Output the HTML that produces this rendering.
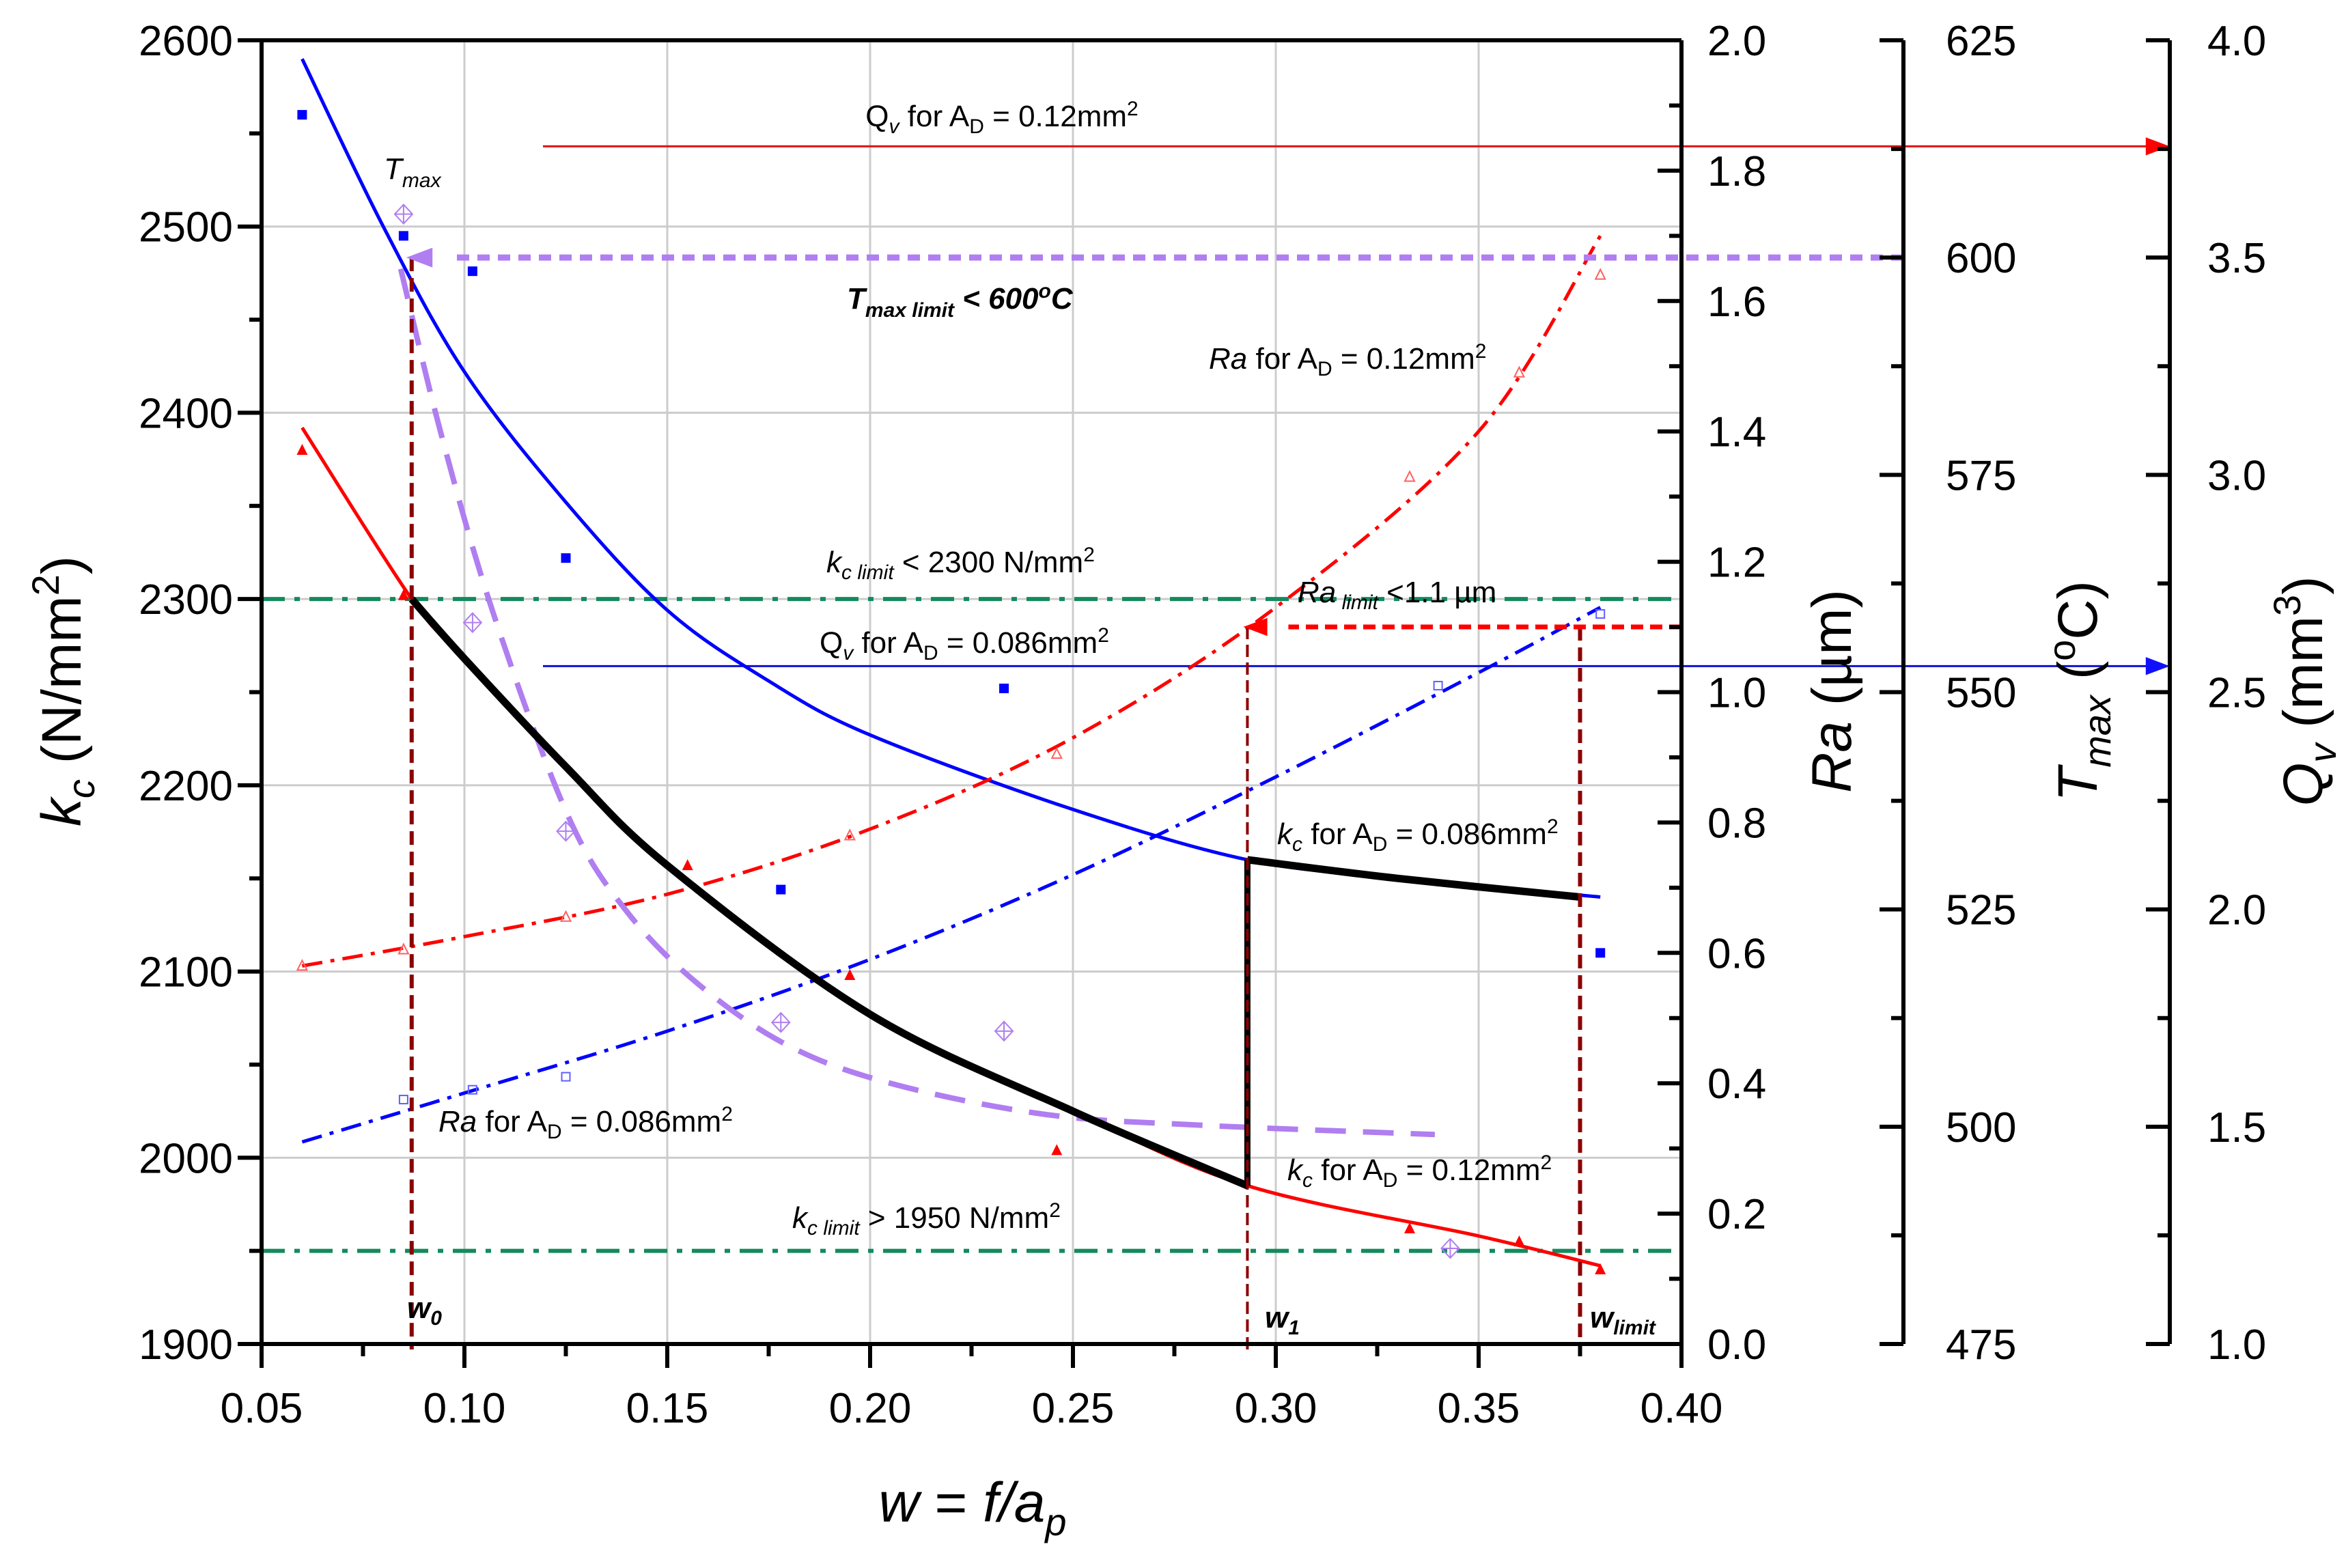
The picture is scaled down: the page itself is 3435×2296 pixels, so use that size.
<!DOCTYPE html>
<html><head><meta charset="utf-8"><style>
html,body{margin:0;padding:0;background:#fff}
svg text{font-family:"Liberation Sans",Arial,sans-serif}
</style></head><body>
<svg id="chart" xmlns="http://www.w3.org/2000/svg" width="3435" height="2291" viewBox="0 0 3435 2291">
<g id="grid"></g>
<g id="series"></g>
<g id="axes"></g>
<g id="labels" font-size="44">
<text x="1467" y="185" text-anchor="middle">Q<tspan font-size="30" dy="10" font-style="italic">v</tspan><tspan dy="-10"> for A</tspan><tspan font-size="30" dy="10">D</tspan><tspan dy="-10"> = 0.12mm</tspan><tspan font-size="30" dy="-16">2</tspan></text>
<text x="562" y="262" font-style="italic">T<tspan font-size="30" dy="12">max</tspan></text>
<text x="1240" y="452" font-weight="bold" font-style="italic">T<tspan font-size="30" dy="12">max limit</tspan><tspan dy="-12"> &lt; 600</tspan><tspan font-size="30" dy="-16">o</tspan><tspan dy="16">C</tspan></text>
<text x="1770" y="540"><tspan font-style="italic">Ra</tspan> for A<tspan font-size="30" dy="10">D</tspan><tspan dy="-10"> = 0.12mm</tspan><tspan font-size="30" dy="-16">2</tspan></text>
<text x="1210" y="838"><tspan font-style="italic">k</tspan><tspan font-size="30" dy="10" font-style="italic">c limit</tspan><tspan dy="-10"> &lt; 2300 N/mm</tspan><tspan font-size="30" dy="-16">2</tspan></text>
<text x="1900" y="882"><tspan font-style="italic">Ra</tspan><tspan font-size="30" dy="10" font-style="italic"> limit</tspan><tspan dy="-10"> &lt;1.1 µm</tspan></text>
<text x="1200" y="956">Q<tspan font-size="30" dy="10" font-style="italic">v</tspan><tspan dy="-10"> for A</tspan><tspan font-size="30" dy="10">D</tspan><tspan dy="-10"> = 0.086mm</tspan><tspan font-size="30" dy="-16">2</tspan></text>
<text x="1870" y="1236"><tspan font-style="italic">k</tspan><tspan font-size="30" dy="10" font-style="italic">c</tspan><tspan dy="-10"> for A</tspan><tspan font-size="30" dy="10">D</tspan><tspan dy="-10"> = 0.086mm</tspan><tspan font-size="30" dy="-16">2</tspan></text>
<text x="642" y="1657"><tspan font-style="italic">Ra</tspan> for A<tspan font-size="30" dy="10">D</tspan><tspan dy="-10"> = 0.086mm</tspan><tspan font-size="30" dy="-16">2</tspan></text>
<text x="1885" y="1728"><tspan font-style="italic">k</tspan><tspan font-size="30" dy="10" font-style="italic">c</tspan><tspan dy="-10"> for A</tspan><tspan font-size="30" dy="10">D</tspan><tspan dy="-10"> = 0.12mm</tspan><tspan font-size="30" dy="-16">2</tspan></text>
<text x="1160" y="1798"><tspan font-style="italic">k</tspan><tspan font-size="30" dy="10" font-style="italic">c limit</tspan><tspan dy="-10"> &gt; 1950 N/mm</tspan><tspan font-size="30" dy="-16">2</tspan></text>
<text x="596" y="1930" font-weight="bold" font-style="italic">w<tspan font-size="30" dy="10">0</tspan></text>
<text x="1852" y="1944" font-weight="bold" font-style="italic">w<tspan font-size="30" dy="10">1</tspan></text>
<text x="2328" y="1944" font-weight="bold" font-style="italic">w<tspan font-size="30" dy="10">limit</tspan></text>
</g>
<g id="titles" font-size="82">
<text x="1424" y="2228" text-anchor="middle" font-style="italic">w<tspan font-style="normal"> = </tspan>f/a<tspan font-size="56" dy="20">p</tspan></text>
<text transform="translate(118,1012) rotate(-90)" text-anchor="middle"><tspan font-style="italic">k</tspan><tspan font-size="56" dy="20" font-style="italic">c</tspan><tspan dy="-20"> (N/mm</tspan><tspan font-size="56" dy="-32">2</tspan><tspan dy="32">)</tspan></text>
<text transform="translate(2710,1012) rotate(-90)" text-anchor="middle"><tspan font-style="italic">Ra</tspan> (µm)</text>
<text transform="translate(3070,1012) rotate(-90)" text-anchor="middle"><tspan font-style="italic">T</tspan><tspan font-size="56" dy="20" font-style="italic">max</tspan><tspan dy="-20"> (</tspan><tspan font-size="56" dy="-32">o</tspan><tspan dy="32">C)</tspan></text>
<text transform="translate(3400,1012) rotate(-90)" text-anchor="middle"><tspan font-style="italic">Q</tspan><tspan font-size="56" dy="20" font-style="italic">v</tspan><tspan dy="-20"> (mm</tspan><tspan font-size="56" dy="-32">3</tspan><tspan dy="32">)</tspan></text>
</g>
</svg>
<script>
const xTicks=[0.05,0.10,0.15,0.20,0.25,0.30,0.35,0.40];
const kcTicks=[1900,2000,2100,2200,2300,2400,2500,2600];
const raTicks=[0.0,0.2,0.4,0.6,0.8,1.0,1.2,1.4,1.6,1.8,2.0];
const tTicks=[475,500,525,550,575,600,625];
const qTicks=[1.0,1.5,2.0,2.5,3.0,3.5,4.0];
// kc fits
const kcFit086X=[0.06,0.08,0.10,0.125,0.15,0.175,0.20,0.25,0.293,0.33,0.38];
const kcFit086Y=[2590,2500,2422,2352,2294,2256,2227,2187,2160,2150,2140];
const kcFit12X=[0.06,0.087,0.10,0.125,0.15,0.20,0.25,0.293,0.35,0.38];
const kcFit12Y=[2392,2300,2268,2210,2157,2077,2025,1985,1958,1942];
const kc086X=[0.06,0.085,0.102,0.125,0.178,0.233,0.38];
const kc086Y=[2560,2495,2476,2322,2144,2252,2110];
const kc12X=[0.06,0.085,0.155,0.195,0.246,0.333,0.36,0.38];
const kc12Y=[2380,2302,2157,2098,2004,1962,1955,1940];
// Ra
const raFit12X=[0.06,0.10,0.15,0.20,0.25,0.30,0.35,0.38];
const raFit12Y=[0.58,0.625,0.69,0.79,0.93,1.13,1.40,1.70];
const ra12X=[0.06,0.085,0.125,0.195,0.246,0.333,0.36,0.38];
const ra12Y=[0.58,0.605,0.655,0.78,0.905,1.33,1.49,1.64];
const raFit086X=[0.06,0.10,0.15,0.20,0.25,0.30,0.35,0.38];
const raFit086Y=[0.31,0.385,0.48,0.59,0.72,0.87,1.03,1.13];
const ra086X=[0.085,0.102,0.125,0.34,0.38];
const ra086Y=[0.375,0.39,0.41,1.01,1.12];
// Tmax
const tFitX=[0.0843,0.0942,0.1071,0.1255,0.1403,0.1587,0.1808,0.2066,0.2434,0.2803,0.3392];
const tFitY=[598.7,579.8,559.1,535.8,524.6,516.0,509.1,504.8,501.4,500.2,499.1];
const tX=[0.085,0.102,0.125,0.178,0.233,0.343];
const tY=[605,558,534,512,511,486];
// limits
const qv12=3.756, qv086=2.56, tLimit=600, kcUpper=2300, kcLower=1950, raLimit=1.1;
const w0=0.087, w1=0.293, wLimit=0.375;

const X0=383,X1=2462,Y0=59,Y1=1968,AXT=2787,AXQ=3177;
const sx=v=>X0+(v-0.05)/0.35*(X1-X0);
const sk=v=>Y1-(v-1900)/700*(Y1-Y0);
const sr=v=>Y1-v/2*(Y1-Y0);
const st=v=>Y1-(v-475)/150*(Y1-Y0);
const sq=v=>Y1-(v-1)/3*(Y1-Y0);
const NS="http://www.w3.org/2000/svg";
function mk(parent,tag,attrs){const e=document.createElementNS(NS,tag);for(const k in attrs)e.setAttribute(k,attrs[k]);parent.appendChild(e);return e;}
const G=document.getElementById('grid'),S=document.getElementById('series'),A=document.getElementById('axes');
function smooth(pts){let d=`M${pts[0][0]},${pts[0][1]}`;for(let i=0;i<pts.length-1;i++){const p0=pts[i-1]||pts[i],p1=pts[i],p2=pts[i+1],p3=pts[i+2]||p2;
const c1=[p1[0]+(p2[0]-p0[0])/6,p1[1]+(p2[1]-p0[1])/6],c2=[p2[0]-(p3[0]-p1[0])/6,p2[1]-(p3[1]-p1[1])/6];
d+=` C${c1[0]},${c1[1]} ${c2[0]},${c2[1]} ${p2[0]},${p2[1]}`;}return d;}
// grid
xTicks.slice(1,-1).forEach(v=>{const l=mk(G,'line',{x1:sx(v),x2:sx(v),y1:Y0,y2:Y1,stroke:'#cccccc','stroke-width':3});

});
kcTicks.slice(1,-1).forEach(v=>{const l=mk(G,'line',{x1:X0,x2:X1,y1:sk(v),y2:sk(v),stroke:'#cccccc','stroke-width':3});

});
function curve(xs,ys,sy,color,w,dash,name){const p=mk(S,'path',{d:smooth(xs.map((x,i)=>[sx(x),sy(ys[i])])),fill:'none',stroke:color,'stroke-width':w,'stroke-dasharray':dash||'none'});

}
function line(x1,y1,x2,y2,color,w,dash,name){const l=mk(S,'line',{x1,y1,x2,y2,stroke:color,'stroke-width':w,'stroke-dasharray':dash||'none'});

}
function arrow(x,y,dir,color,size,name){const s=size;const pts=dir>0?`${x},${y} ${x-s*1.6},${y-s*0.6} ${x-s*1.6},${y+s*0.6}`:`${x},${y} ${x+s*1.6},${y-s*0.6} ${x+s*1.6},${y+s*0.6}`;
const p=mk(S,'polygon',{points:pts,fill:color});

}
// limit lines
line(X0,sk(kcUpper),X1,sk(kcUpper),'#138a5e',6,'34 14 8 14','kc-upper-limit-line');
line(X0,sk(kcLower),X1,sk(kcLower),'#138a5e',6,'34 14 8 14','kc-lower-limit-line');
line(795,sq(qv12),AXQ-20,sq(qv12),'#e01010',3,null,'qv-012-line');
arrow(AXQ,sq(qv12),1,'#ff0000',22,'qv-012-arrow');
line(795,sq(qv086),AXQ-20,sq(qv086),'#1010d0',3,null,'qv-0086-line');
arrow(AXQ,sq(qv086),1,'#1010ff',22,'qv-0086-arrow');
// curves
curve(kcFit086X,kcFit086Y,sk,'#0000ff',5,null,'kc-0086-fit');
curve(kcFit12X,kcFit12Y,sk,'#ff0000',5,null,'kc-012-fit');
curve(raFit12X,raFit12Y,sr,'#ff0000',5,'30 12 6 12','ra-012-fit');
curve(raFit086X,raFit086Y,sr,'#0000ff',5,'30 12 6 12','ra-0086-fit');
curve(tFitX,tFitY,st,'#b07ef0',8,'45 25','tmax-fit');
// black optimal path
const bx=[],by=[];
kcFit12X.forEach((x,i)=>{if(x>=w0&&x<=w1){bx.push(x);by.push(kcFit12Y[i]);}});
curve(bx,by,sk,'#000',11,null,'optimal-path-lower');
line(sx(w1),sk(1985),sx(w1),sk(2160),'#000',9,null,'optimal-path-vertical');
curve([w1,0.33,wLimit],[2160,2150,2140],sk,'#000',11,null,'optimal-path-upper');
// dashed verticals
line(sx(w0),st(tLimit),sx(w0),Y1+8,'#8b0000',6,'20 10','w0-line');
line(sx(w1),sr(raLimit),sx(w1),Y1+8,'#8b0000',4,'18 8','w1-line');
line(sx(wLimit),sr(raLimit),sx(wLimit),Y1+8,'#8b0000',6,'20 10','wlimit-line');
line(AXT,st(tLimit),sx(w0)+60,st(tLimit),'#b07ef0',9,'18 12','tmax-limit-line');
arrow(sx(w0)-8,st(tLimit),-1,'#b07ef0',24,'tmax-limit-arrow');
line(X1,sr(raLimit),sx(w1)+60,sr(raLimit),'#ff0000',7,'18 10','ra-limit-line');
arrow(sx(w1)-6,sr(raLimit),-1,'#ff0000',22,'ra-limit-arrow');
// markers
kc086X.forEach((x,i)=>{const r=mk(S,'rect',{x:sx(x)-7,y:sk(kc086Y[i])-7,width:14,height:14,fill:'#0000ff'});

});
kc12X.forEach((x,i)=>{const X=sx(x),Y=sk(kc12Y[i]);const p=mk(S,'polygon',{points:`${X},${Y-9} ${X-8},${Y+7} ${X+8},${Y+7}`,fill:'#ff0000'});

});
ra12X.forEach((x,i)=>{const X=sx(x),Y=sr(ra12Y[i]);const p=mk(S,'polygon',{points:`${X},${Y-8} ${X-7},${Y+6} ${X+7},${Y+6}`,fill:'none',stroke:'#ff6060','stroke-width':2});

});
ra086X.forEach((x,i)=>{const r=mk(S,'rect',{x:sx(x)-6,y:sr(ra086Y[i])-6,width:12,height:12,fill:'none',stroke:'#6060ff','stroke-width':2});

});
tX.forEach((x,i)=>{const X=sx(x),Y=st(tY[i]);const p=mk(S,'path',{d:`M${X},${Y-14} L${X+13},${Y} L${X},${Y+14} L${X-13},${Y} Z M${X},${Y-14} V${Y+14} M${X-13},${Y} H${X+13}`,fill:'none',stroke:'#b07ef0','stroke-width':2});

});
// axes
function aline(x1,y1,x2,y2,w,name){const l=mk(A,'line',{x1,y1,x2,y2,stroke:'#000','stroke-width':w});

}
function alabel(x,y,t,anchor,name){const e=mk(A,'text',{x,y,'font-size':62,'text-anchor':anchor});e.textContent=t;

}
aline(X0,Y1,X1,Y1,6,'x-axis-line');
aline(X0,Y0,X1,Y0,6,'top-axis-line');
aline(X0,Y0,X0,Y1,6,'kc-axis-line');
aline(X1,Y0,X1,Y1,6,'ra-axis-line');
aline(AXT,Y0,AXT,Y1,6,'tmax-axis-line');
aline(AXQ,Y0,AXQ,Y1,6,'qv-axis-line');
xTicks.forEach((v,i)=>{aline(sx(v),Y1,sx(v),Y1+35,6,'x-tick');alabel(sx(v),Y1+115,v.toFixed(2),'middle','x-tick-label');
if(i<xTicks.length-1)aline(sx(v+0.025),Y1,sx(v+0.025),Y1+18,6,'x-minor-tick');});
kcTicks.forEach((v,i)=>{aline(X0-35,sk(v),X0,sk(v),6,'kc-tick');alabel(X0-42,sk(v)+22,String(v),'end','kc-tick-label');
if(i<kcTicks.length-1)aline(X0-18,sk(v+50),X0,sk(v+50),6,'kc-minor-tick');});
raTicks.forEach((v,i)=>{aline(X1-35,sr(v),X1,sr(v),6,'ra-tick');alabel(X1+38,sr(v)+22,v.toFixed(1),'start','ra-tick-label');
if(i<raTicks.length-1)aline(X1-18,sr(v+0.1),X1,sr(v+0.1),6,'ra-minor-tick');});
tTicks.forEach((v,i)=>{aline(AXT-35,st(v),AXT,st(v),6,'tmax-tick');alabel(AXT+62,st(v)+22,String(v),'start','tmax-tick-label');
if(i<tTicks.length-1)aline(AXT-18,st(v+12.5),AXT,st(v+12.5),6,'tmax-minor-tick');});
qTicks.forEach((v,i)=>{aline(AXQ-35,sq(v),AXQ,sq(v),6,'qv-tick');alabel(AXQ+55,sq(v)+22,v.toFixed(1),'start','qv-tick-label');
if(i<qTicks.length-1)aline(AXQ-18,sq(v+0.25),AXQ,sq(v+0.25),6,'qv-minor-tick');});
</script>
</body></html>
